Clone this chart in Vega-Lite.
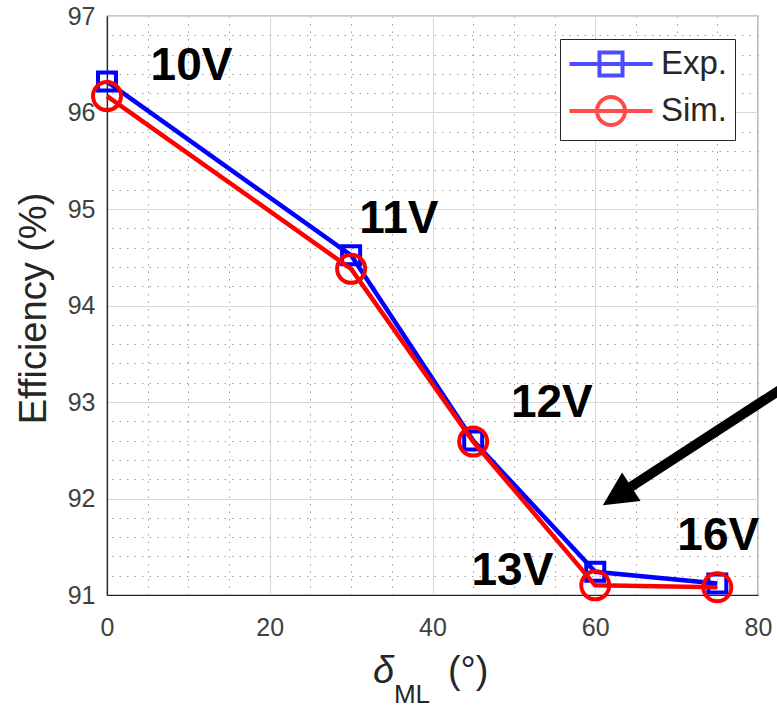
{
  "$schema": "https://vega.github.io/schema/vega-lite/v6.json",
  "width": 651,
  "height": 579,
  "autosize": {"type": "none"},
  "padding": {"left": 107, "top": 16, "right": 19, "bottom": 113},
  "background": "white",
  "config": {
    "font": "Liberation Sans",
    "view": {"stroke": "#262626", "strokeWidth": 1.2}
  },
  "datasets": {
    "eff": [
      {"series": "Exp.", "x": 0, "y": 96.32},
      {"series": "Exp.", "x": 30, "y": 94.52},
      {"series": "Exp.", "x": 45, "y": 92.6},
      {"series": "Exp.", "x": 60, "y": 91.24},
      {"series": "Exp.", "x": 75, "y": 91.12},
      {"series": "Sim.", "x": 0, "y": 96.17},
      {"series": "Sim.", "x": 30, "y": 94.38},
      {"series": "Sim.", "x": 45, "y": 92.59},
      {"series": "Sim.", "x": 60, "y": 91.1},
      {"series": "Sim.", "x": 75, "y": 91.08}
    ],
    "notes": [
      {"text": "10V", "x": 10.38, "y": 96.337},
      {"text": "11V", "x": 35.87, "y": 94.75},
      {"text": "12V", "x": 54.67, "y": 92.84},
      {"text": "13V", "x": 49.82, "y": 91.1},
      {"text": "16V", "x": 75.12, "y": 91.47}
    ],
    "xt1": [{"text": "δ", "x": 32.68, "y": 90.088}],
    "xt2": [{"text": "ML", "x": 35.26, "y": 89.881}],
    "xt3": [{"text": "(°)", "x": 41.89, "y": 90.088}],
    "arrow": [{"x": 85.16, "y": 93.26, "x2": 63.51, "y2": 92.074}],
    "arrowhead": [{"x": 60.93, "y": 91.93}]
  },
  "layer": [
    {
      "data": {"name": "eff"},
      "transform": [{"filter": "datum.x < 0"}],
      "mark": {"type": "point", "filled": false},
      "encoding": {
        "x": {"field": "x", "type": "quantitative",
          "scale": {"domain": [0, 80], "nice": false, "zero": false},
          "axis": {"orient": "top", "values": [5, 10, 15, 25, 30, 35, 45, 50, 55, 65, 70, 75], "grid": true, "gridColor": "#a0a0a0", "gridDash": [1.5, 6], "gridWidth": 1, "labels": false, "ticks": false, "domain": false, "title": null}},
        "y": {"field": "y", "type": "quantitative",
          "scale": {"domain": [91, 97], "nice": false, "zero": false},
          "axis": {"orient": "right", "values": [91.2, 91.4, 91.6, 91.8, 92.2, 92.4, 92.6, 92.8, 93.2, 93.4, 93.6, 93.8, 94.2, 94.4, 94.6, 94.8, 95.2, 95.4, 95.6, 95.8, 96.2, 96.4, 96.6, 96.8], "grid": true, "gridColor": "#a0a0a0", "gridDash": [1.5, 6], "gridWidth": 1, "labels": false, "ticks": false, "domain": false, "title": null}},
        "shape": {"field": "series", "type": "nominal",
          "scale": {"domain": ["Exp.", "Sim."], "range": ["M-2.6,0L2.6,0M-0.72,-0.72L0.72,-0.72L0.72,0.72L-0.72,0.72Z", "M-2.6,0L2.6,0M0.875,0A0.875,0.875,0,1,1,-0.875,0A0.875,0.875,0,1,1,0.875,0"]},
          "legend": {"title": null, "orient": "top-right", "offset": 23, "padding": 7, "strokeColor": "#262626", "fillColor": "white", "cornerRadius": 0, "symbolSize": 1024, "symbolStrokeWidth": 4, "symbolOffset": 26, "labelOffset": 32, "labelFontSize": 33, "labelColor": "#262626", "labelFont": "Liberation Sans", "rowPadding": 5}},
        "stroke": {"field": "series", "type": "nominal",
          "scale": {"domain": ["Exp.", "Sim."], "range": ["#0000FF", "#FF0000"]},
          "legend": {"title": null, "orient": "top-right", "offset": 23, "padding": 7, "strokeColor": "#262626", "fillColor": "white", "cornerRadius": 0, "symbolSize": 1024, "symbolStrokeWidth": 4, "symbolOffset": 26, "labelOffset": 32, "labelFontSize": 33, "labelColor": "#262626", "labelFont": "Liberation Sans", "rowPadding": 5}}
      }
    },
    {
      "data": {"name": "eff"},
      "transform": [{"filter": "datum.series === 'Exp.'"}],
      "mark": {"type": "line", "color": "#0000FF", "strokeWidth": 4.5},
      "encoding": {
        "x": {"field": "x", "type": "quantitative",
          "scale": {"domain": [0, 80], "nice": false, "zero": false},
          "axis": {"orient": "bottom", "values": [0, 20, 40, 60, 80], "format": "d", "grid": true, "gridColor": "#d8d8d8", "gridWidth": 1, "ticks": false, "domain": true, "domainColor": "#262626", "domainWidth": 1.2, "labelFontSize": 25, "labelColor": "#404040", "labelPadding": 20, "labelFlush": false, "labelFont": "Liberation Sans", "title": null}},
        "y": {"field": "y", "type": "quantitative",
          "scale": {"domain": [91, 97], "nice": false, "zero": false},
          "axis": {"orient": "left", "values": [91, 92, 93, 94, 95, 96, 97], "format": "d", "grid": true, "gridColor": "#d8d8d8", "gridWidth": 1, "ticks": false, "domain": true, "domainColor": "#262626", "domainWidth": 1.2, "labelFontSize": 25, "labelColor": "#404040", "labelPadding": 12, "labelFlush": false, "labelFont": "Liberation Sans",
            "title": "Efficiency (%)", "titleFontSize": 38, "titleFontWeight": "normal", "titleColor": "#262626", "titleFont": "Liberation Sans", "titleAngle": -90, "titleAlign": "center", "titleBaseline": "alphabetic", "titleX": -62, "titleY": 292}}
      }
    },
    {
      "data": {"name": "eff"},
      "transform": [{"filter": "datum.series === 'Exp.'"}],
      "mark": {"type": "point", "shape": "square", "filled": false, "stroke": "#0000FF", "strokeWidth": 4, "size": 324, "opacity": 1},
      "encoding": {
        "x": {"field": "x", "type": "quantitative", "scale": {"domain": [0, 80], "nice": false, "zero": false}, "axis": null},
        "y": {"field": "y", "type": "quantitative", "scale": {"domain": [91, 97], "nice": false, "zero": false}, "axis": null}
      }
    },
    {
      "data": {"name": "eff"},
      "transform": [{"filter": "datum.series === 'Sim.'"}],
      "mark": {"type": "line", "color": "#FF0000", "strokeWidth": 4.5},
      "encoding": {
        "x": {"field": "x", "type": "quantitative", "scale": {"domain": [0, 80], "nice": false, "zero": false}, "axis": null},
        "y": {"field": "y", "type": "quantitative", "scale": {"domain": [91, 97], "nice": false, "zero": false}, "axis": null}
      }
    },
    {
      "data": {"name": "eff"},
      "transform": [{"filter": "datum.series === 'Sim.'"}],
      "mark": {"type": "point", "shape": "circle", "filled": false, "stroke": "#FF0000", "strokeWidth": 4, "size": 784, "opacity": 1},
      "encoding": {
        "x": {"field": "x", "type": "quantitative", "scale": {"domain": [0, 80], "nice": false, "zero": false}, "axis": null},
        "y": {"field": "y", "type": "quantitative", "scale": {"domain": [91, 97], "nice": false, "zero": false}, "axis": null}
      }
    },
    {
      "data": {"name": "arrow"},
      "mark": {"type": "rule", "color": "black", "strokeWidth": 10, "strokeCap": "butt"},
      "encoding": {
        "x": {"field": "x", "type": "quantitative", "scale": {"domain": [0, 80], "nice": false, "zero": false}, "axis": null},
        "y": {"field": "y", "type": "quantitative", "scale": {"domain": [91, 97], "nice": false, "zero": false}, "axis": null},
        "x2": {"field": "x2"},
        "y2": {"field": "y2"}
      }
    },
    {
      "data": {"name": "arrowhead"},
      "mark": {"type": "point", "shape": "M0,0L-0.5,1L0.5,1Z", "filled": true, "color": "black", "opacity": 1, "size": 4624, "angle": 237},
      "encoding": {
        "x": {"field": "x", "type": "quantitative", "scale": {"domain": [0, 80], "nice": false, "zero": false}, "axis": null},
        "y": {"field": "y", "type": "quantitative", "scale": {"domain": [91, 97], "nice": false, "zero": false}, "axis": null}
      }
    },
    {
      "data": {"name": "notes"},
      "mark": {"type": "text", "font": "Liberation Sans", "fontSize": 46, "fontWeight": "bold", "color": "black", "align": "center", "baseline": "alphabetic"},
      "encoding": {
        "x": {"field": "x", "type": "quantitative", "scale": {"domain": [0, 80], "nice": false, "zero": false}, "axis": null},
        "y": {"field": "y", "type": "quantitative", "scale": {"domain": [91, 97], "nice": false, "zero": false}, "axis": null},
        "text": {"field": "text"}
      }
    },
    {
      "data": {"name": "xt1"},
      "mark": {"type": "text", "font": "Liberation Sans", "fontSize": 38, "fontStyle": "italic", "color": "#262626", "align": "left", "baseline": "alphabetic"},
      "encoding": {
        "x": {"field": "x", "type": "quantitative", "scale": {"domain": [0, 80], "nice": false, "zero": false}, "axis": null},
        "y": {"field": "y", "type": "quantitative", "scale": {"domain": [91, 97], "nice": false, "zero": false}, "axis": null},
        "text": {"field": "text"}
      }
    },
    {
      "data": {"name": "xt2"},
      "mark": {"type": "text", "font": "Liberation Sans", "fontSize": 26, "color": "#262626", "align": "left", "baseline": "alphabetic"},
      "encoding": {
        "x": {"field": "x", "type": "quantitative", "scale": {"domain": [0, 80], "nice": false, "zero": false}, "axis": null},
        "y": {"field": "y", "type": "quantitative", "scale": {"domain": [91, 97], "nice": false, "zero": false}, "axis": null},
        "text": {"field": "text"}
      }
    },
    {
      "data": {"name": "xt3"},
      "mark": {"type": "text", "font": "Liberation Sans", "fontSize": 38, "color": "#262626", "align": "left", "baseline": "alphabetic"},
      "encoding": {
        "x": {"field": "x", "type": "quantitative", "scale": {"domain": [0, 80], "nice": false, "zero": false}, "axis": null},
        "y": {"field": "y", "type": "quantitative", "scale": {"domain": [91, 97], "nice": false, "zero": false}, "axis": null},
        "text": {"field": "text"}
      }
    }
  ],
  "resolve": {"axis": {"x": "independent", "y": "independent"}}
}
